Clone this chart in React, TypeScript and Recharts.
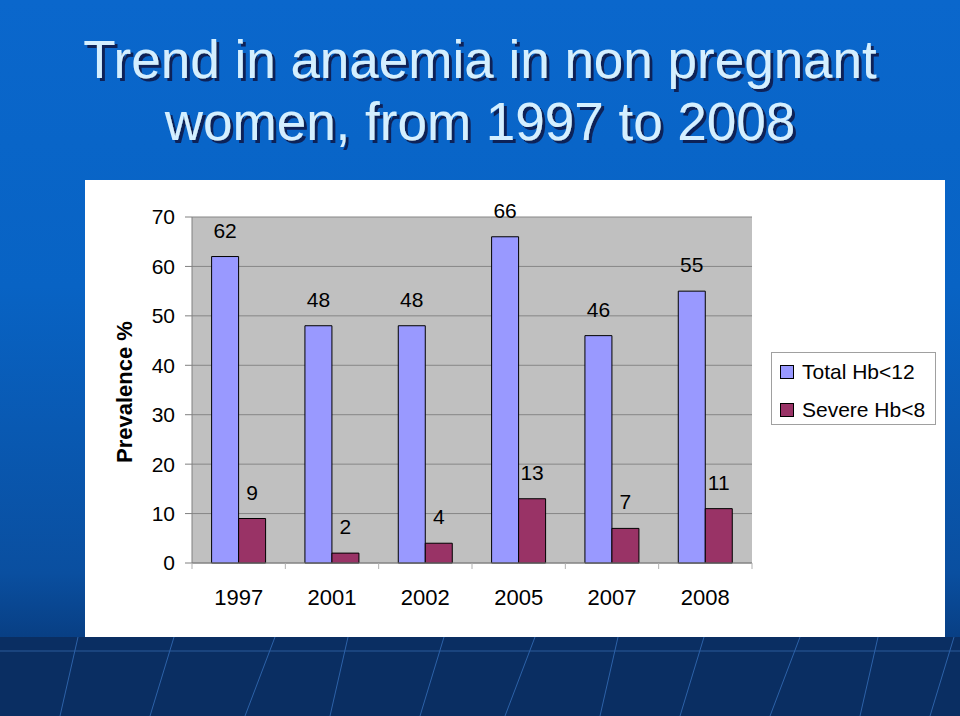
import React from 'react';
import { BarChart, Bar, XAxis, YAxis, CartesianGrid, LabelList } from 'recharts';

const years = ['1997', '2001', '2002', '2005', '2007', '2008'];
const totalHb12 = [62, 48, 48, 66, 46, 55];
const severeHb8 = [9, 2, 4, 13, 7, 11];
const yTicks = [0, 10, 20, 30, 40, 50, 60, 70];
const seriesNames = ['Total Hb<12', 'Severe Hb<8'];
const seriesColors = ['#9999FF', '#993366'];
const titleLines = ['Trend in anaemia in non pregnant', 'women, from 1997 to 2008'];
const yLabel = 'Prevalence %';

const data = years.map((y, i) => ({ year: y, total: totalHb12[i], severe: severeHb8[i] }));

const FONT = '"Liberation Sans", Arial, sans-serif';

const XTick = (props: any) => {
  const { x, y, payload, index } = props;
  const off = payload && payload.offset ? payload.offset : 0;
  const axisY = y;
  return (
    <g>
      <line x1={x - off} x2={x - off} y1={axisY} y2={axisY + 6} stroke="#b0b0b0" />
      {index === years.length - 1 && (
        <line x1={x + off} x2={x + off} y1={axisY} y2={axisY + 6} stroke="#b0b0b0" />
      )}
      <text x={x} y={y + 42} textAnchor="middle" fontSize={22} fontFamily={FONT} fill="#000">
        {payload.value}
      </text>
    </g>
  );
};

const YLabelContent = (props: any) => {
  const vb = props.viewBox || { x: 0, y: 37, width: 107, height: 346 };
  const cx = 39;
  const cy = vb.y + vb.height / 2 + 2;
  return (
    <text
      x={cx}
      y={cy}
      transform={`rotate(-90 ${cx} ${cy})`}
      textAnchor="middle"
      dominantBaseline="central"
      fontSize={22}
      fontWeight="bold"
      fontFamily={FONT}
      fill="#000"
    >
      {yLabel}
    </text>
  );
};

const bandLines = [60, 150, 245, 330, 420, 505, 600, 680, 770, 860, 930];

export default function App() {
  return (
    <div
      style={{
        position: 'absolute',
        left: 0,
        top: 0,
        width: 960,
        height: 716,
        overflow: 'hidden',
        background: 'linear-gradient(180deg, #0a67cc 0%, #0863c4 40%, #0a4fa0 80%, #083f84 89%)',
        fontFamily: FONT,
      }}
    >
      <svg
        width={960}
        height={716}
        style={{ position: 'absolute', left: 0, top: 0 }}
      >
        <defs>
          <filter id="tshadow" x="-10%" y="-30%" width="120%" height="160%">
            <feDropShadow dx={3} dy={3} stdDeviation={0.6} floodColor="#0a2458" floodOpacity={1} />
          </filter>
        </defs>
        <rect x={0} y={637} width={960} height={79} fill="#0a2e62" />
        <line x1={0} x2={960} y1={651} y2={651} stroke="#2a5a9a" strokeWidth={1} />
        {bandLines.map((bx, i) => (
          <line
            key={i}
            x1={bx}
            y1={716}
            x2={bx + 18 + (i % 3) * 6}
            y2={637}
            stroke="#2d62a8"
            strokeWidth={1}
          />
        ))}
        {titleLines.map((t, i) => (
          <text
            key={i}
            x={480}
            y={78 + i * 62}
            textAnchor="middle"
            fontSize={53}
            fontFamily={FONT}
            fill="#d4efff"
            filter="url(#tshadow)"
          >
            {t}
          </text>
        ))}
      </svg>
      <div
        style={{
          position: 'absolute',
          left: 85,
          top: 180,
          width: 860,
          height: 457,
          background: '#ffffff',
        }}
      >
        <BarChart
          width={860}
          height={457}
          data={data}
          margin={{ top: 37, right: 193, bottom: 0, left: 0 }}
          barCategoryGap="21%"
          barGap={0}
        >
          <CartesianGrid vertical={false} stroke="#868686" fill="#C0C0C0" fillOpacity={1} />
          <XAxis
            dataKey="year"
            height={74}
            axisLine={{ stroke: '#808080' }}
            tickLine={false}
            tickSize={0}
            tickMargin={0}
            tick={<XTick />}
            interval={0}
          />
          <YAxis
            width={107}
            domain={[0, 70]}
            ticks={yTicks}
            interval={0}
            tickSize={7}
            tickMargin={10}
            axisLine={{ stroke: '#808080' }}
            tickLine={{ stroke: '#808080' }}
            tick={{ fontSize: 21, fill: '#000', fontFamily: FONT }}
            label={{ content: <YLabelContent /> } as any}
          />
          <YAxis
            yAxisId="right"
            orientation="right"
            width={0}
            domain={[0, 70]}
            tick={false}
            tickLine={false}
            axisLine={{ stroke: '#808080' }}
          />
          <Bar dataKey="total" name={seriesNames[0]} fill={seriesColors[0]} stroke="#000" strokeWidth={1} isAnimationActive={false}>
            <LabelList dataKey="total" position="top" offset={19} fontSize={21} fill="#000" fontFamily={FONT} />
          </Bar>
          <Bar dataKey="severe" name={seriesNames[1]} fill={seriesColors[1]} stroke="#000" strokeWidth={1} isAnimationActive={false}>
            <LabelList dataKey="severe" position="top" offset={19} fontSize={21} fill="#000" fontFamily={FONT} />
          </Bar>
        </BarChart>
        <div
          style={{
            position: 'absolute',
            left: 686,
            top: 172,
            width: 165,
            height: 73,
            border: '1px solid #a0a0a0',
            background: '#fff',
            boxSizing: 'border-box',
          }}
        >
          {seriesNames.map((n, i) => (
            <div
              key={n}
              style={{
                position: 'absolute',
                left: 8,
                top: 6 + i * 38,
                height: 26,
                display: 'flex',
                alignItems: 'center',
                whiteSpace: 'nowrap',
              }}
            >
              <div
                style={{
                  width: 12,
                  height: 12,
                  background: seriesColors[i],
                  border: '1px solid #000',
                  marginRight: 8,
                }}
              />
              <span style={{ fontSize: 21, color: '#000', lineHeight: '26px' }}>{n}</span>
            </div>
          ))}
        </div>
      </div>
    </div>
  );
}
